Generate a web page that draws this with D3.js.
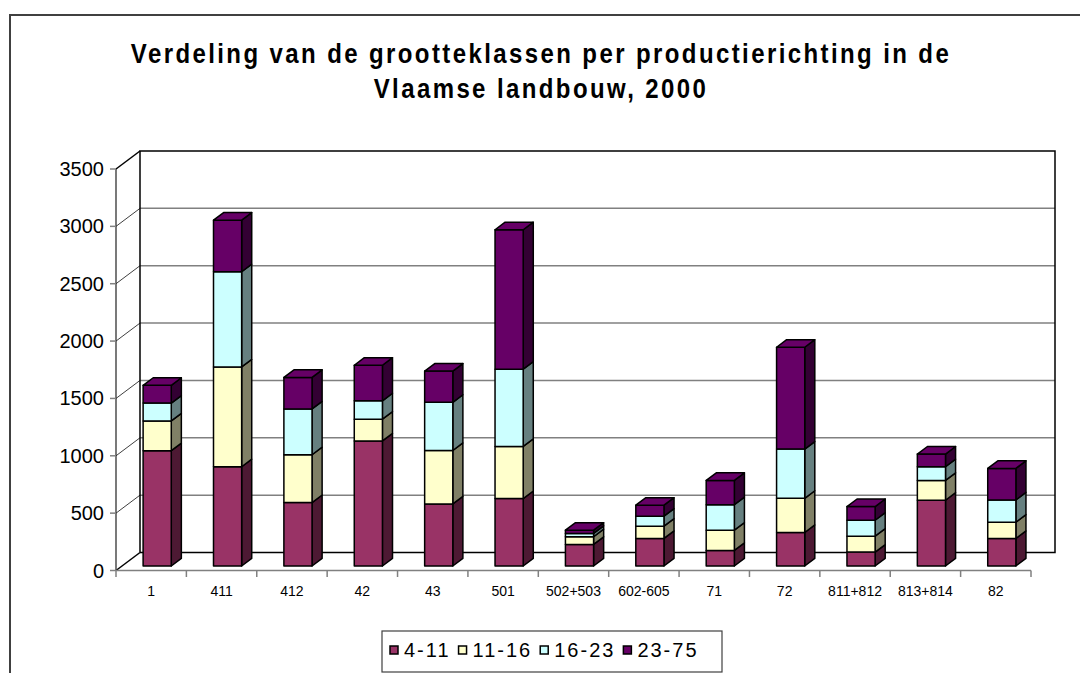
<!DOCTYPE html>
<html>
<head>
<meta charset="utf-8">
<script src="https://cdn.jsdelivr.net/npm/d3@7"></script>
<style>
  html, body { margin: 0; padding: 0; background: #fff; }
  svg { display: block; font-family: Arial, "Liberation Sans", sans-serif; }
</style>
</head>
<body>
<svg id="chart" width="1080" height="673"></svg>
<script>
// ---------------- data ----------------
const categories = ["1","411","412","42","43","501","502+503","602-605","71","72","811+812","813+814","82"];
const seriesNames = ["4-11","11-16","16-23","23-75"];
const s_4_11  = [1005, 865, 553, 1090, 541, 588, 188, 240, 136, 292, 121, 573, 240];
const s_11_16 = [260, 870, 417, 190, 466, 454, 67, 107, 176, 298, 139, 173, 142];
const s_16_23 = [155, 830, 399, 160, 420, 674, 29, 87, 223, 429, 139, 119, 194];
const s_23_75 = [155, 450, 275, 310, 272, 1215, 28, 96, 211, 888, 119, 111, 275];
const yTicks = [0, 500, 1000, 1500, 2000, 2500, 3000, 3500];
const titleLines = ["Verdeling van de grootteklassen per productierichting in de", "Vlaamse landbouw, 2000"];

// ---------------- styling ----------------
const frontCol = ["#993366", "#FFFFCC", "#CCFFFF", "#660066"];
const sideCol  = ["#4D1933", "#808066", "#668080", "#330033"];
const topCol   = ["#993366", "#FFFFCC", "#CCFFFF", "#660066"];

const svg = d3.select("#chart");

// outer border
svg.append("rect").attr("x", 10).attr("y", 15).attr("width", 1100).attr("height", 700)
  .attr("fill", "#fff").attr("stroke", "#404040").attr("stroke-width", 2);

// title
titleLines.forEach((t, i) => {
  svg.append("text")
    .attr("transform", `translate(541,${63 + i * 35}) scale(1,1.15)`)
    .attr("text-anchor", "middle")
    .attr("font-size", 24).attr("font-weight", "bold")
    .attr("letter-spacing", "2.4px")
    .text(t);
});

// geometry
const X0 = 116, X1 = 1031;
const DX = 24, DY = -18;            // full depth offset
const x = d3.scaleBand().domain(categories).range([X0, X1]).paddingInner(0).paddingOuter(0);
const y = d3.scaleLinear().domain([0, 3500]).range([570.5, 169]);
const P = (px, v, d) => [px + DX * d, y(v) + DY * d];
const pts = arr => arr.map(p => p.join(",")).join(" ");

// back wall gridlines + left wall diagonals
yTicks.forEach(t => {
  const a = P(X0, t, 1), b = P(X1, t, 1);
  if (t !== 0 && t !== 3500) {
    svg.append("line").attr("x1", a[0]).attr("y1", a[1]).attr("x2", b[0]).attr("y2", b[1])
      .attr("stroke", "#808080").attr("stroke-width", 1.5);
  }
  const c = P(X0, t, 0);
  svg.append("line").attr("x1", c[0]).attr("y1", c[1]).attr("x2", a[0]).attr("y2", a[1])
    .attr("stroke", (t === 0 || t === 3500) ? "#000" : "#404040")
    .attr("stroke-width", (t === 0 || t === 3500) ? 1.5 : 1);
});

// back wall outline
{
  const bl = P(X0, 0, 1), tl = P(X0, 3500, 1), tr = P(X1, 3500, 1), br = P(X1, 0, 1);
  svg.append("polyline").attr("points", pts([bl, tl, tr, br, bl]))
    .attr("fill", "none").attr("stroke", "#000").attr("stroke-width", 1.5);
}

// y axis (front left edge)
svg.append("line").attr("x1", X0).attr("y1", y(0)).attr("x2", X0).attr("y2", y(3500))
  .attr("stroke", "#202020").attr("stroke-width", 1.2);
yTicks.forEach(t => {
  svg.append("line").attr("x1", X0 - 6).attr("y1", y(t)).attr("x2", X0).attr("y2", y(t))
    .attr("stroke", "#808080").attr("stroke-width", 1.5);
  svg.append("text").attr("x", X0 - 12).attr("y", y(t) + 7)
    .attr("text-anchor", "end").attr("font-size", 20).attr("fill", "#000").text(t);
});

// x axis (front baseline)
svg.append("line").attr("x1", X0).attr("y1", y(0)).attr("x2", X1).attr("y2", y(0))
  .attr("stroke", "#808080").attr("stroke-width", 1.5);
categories.forEach((c, i) => {
  const xr = x(c) + x.bandwidth();
  svg.append("line").attr("x1", xr).attr("y1", y(0)).attr("x2", xr).attr("y2", y(0) + 6.5)
    .attr("stroke", "#808080").attr("stroke-width", 1.5);
  svg.append("text").attr("x", x(c) + x.bandwidth() / 2).attr("y", 596)
    .attr("text-anchor", "middle").attr("font-size", 14).attr("fill", "#000").text(c);
});
svg.append("line").attr("x1", X0).attr("y1", y(0)).attr("x2", X0).attr("y2", y(0) + 6.5)
  .attr("stroke", "#808080").attr("stroke-width", 1.5);

// stacked 3D bars
const series = [s_4_11, s_11_16, s_16_23, s_23_75];
const D1 = 0.25, D2 = 0.67;
const barFrac = 0.40;
const gBars = svg.append("g");
categories.forEach((c, i) => {
  const bw = x.bandwidth() * barFrac;
  const xl = x(c) + (x.bandwidth() - bw) / 2;
  const xr = xl + bw;
  let cum = 0;
  series.forEach((s, k) => {
    const v0 = cum, v1 = cum + s[i];
    cum = v1;
    const isTop = k === series.length - 1;
    const f = [P(xl, v0, D1), P(xr, v0, D1), P(xr, v1, D1), P(xl, v1, D1)];
    const sd = [P(xr, v0, D1), P(xr, v0, D2), P(xr, v1, D2), P(xr, v1, D1)];
    gBars.append("polygon").attr("points", pts(sd)).attr("fill", sideCol[k])
      .attr("stroke", "#000").attr("stroke-width", 1.5).attr("stroke-linejoin", "round");
    gBars.append("polygon").attr("points", pts(f)).attr("fill", frontCol[k])
      .attr("stroke", "#000").attr("stroke-width", 1.5).attr("stroke-linejoin", "round");
    if (isTop) {
      const tp = [P(xl, v1, D1), P(xr, v1, D1), P(xr, v1, D2), P(xl, v1, D2)];
      gBars.append("polygon").attr("points", pts(tp)).attr("fill", topCol[k])
        .attr("stroke", "#000").attr("stroke-width", 1.5).attr("stroke-linejoin", "round");
    }
  });
});

// legend
const lg = svg.append("g");
lg.append("rect").attr("x", 382).attr("y", 631).attr("width", 340).attr("height", 41)
  .attr("fill", "#fff").attr("stroke", "#404040").attr("stroke-width", 1.2);
let lx = 390;
seriesNames.forEach((n, k) => {
  lg.append("rect").attr("x", lx).attr("y", 646).attr("width", 8).attr("height", 8)
    .attr("fill", frontCol[k]).attr("stroke", "#000").attr("stroke-width", 1.5);
  const t = lg.append("text").attr("x", lx + 14).attr("y", 657)
    .attr("font-size", 20).attr("letter-spacing", "2px").attr("fill", "#000").text(n);
  const w = t.node().getComputedTextLength();
  lx += 14 + w + 8;
});
</script>
</body>
</html>
